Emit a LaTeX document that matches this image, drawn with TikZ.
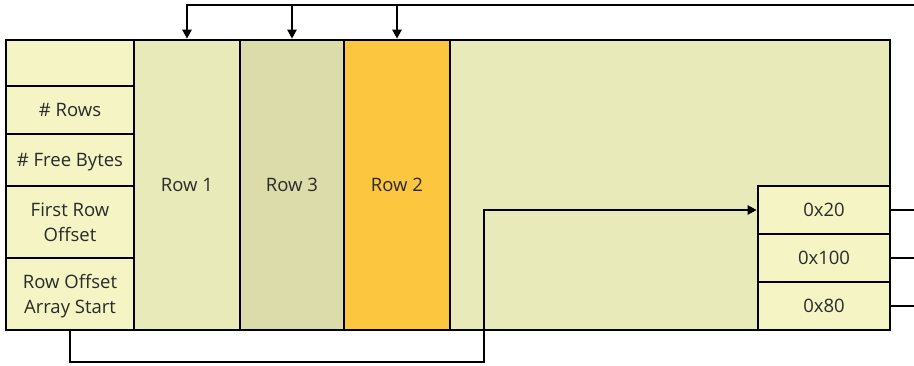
\documentclass[tikz,border=0pt]{standalone}
\usepackage{fontspec}
\setmainfont{Open Sans}
\usepackage{xcolor}
\usepackage{tikz}
\usetikzlibrary{positioning,arrows.meta,calc}
\definecolor{pageCream}{HTML}{F4F4C4}
\definecolor{pageOlive}{HTML}{E8EABA}
\definecolor{pageKhaki}{HTML}{DCDBAA}
\definecolor{pageAmber}{HTML}{FCC63F}
\definecolor{pageInk}{HTML}{2A2A2A}

\begin{document}
\begin{tikzpicture}[
  x=1pt,
  y=-1pt,
  cell/.style={draw=black, line width=2.6pt, inner sep=0pt, align=center, text depth=0pt,
    text=pageInk, font=\fontsize{18.5}{25}\selectfont, minimum width=128pt},
  header/.style={cell, fill=pageCream},
  rowcol/.style={cell, minimum height=290pt},
  offcell/.style={cell, fill=pageCream, minimum width=132pt, minimum height=48pt},
  arrow/.style={-{Triangle[length=9pt,width=9pt]}, line width=2.4pt, draw=black},
  stub/.style={line width=2.4pt, draw=black}
]
\useasboundingbox (0,0) rectangle (914,365);

\node[cell, fill=pageOlive, minimum width=884pt, minimum height=290pt] (page) at (448,185) {};

\node[header, minimum height=46pt] (top) at (70,63) {};
\node[header, minimum height=48pt] (rows) at (70,110) {\# Rows};
\node[header, minimum height=52pt] (free) at (70,160) {\# Free Bytes};
\node[header, minimum height=72pt] (first) at (70,222) {First Row\\Offset};
\node[header, minimum height=72pt] (arraystart) at (70,294) {Row Offset\\Array Start};

\node[rowcol, fill=pageOlive, minimum width=106pt] (row1) at (187,185) {Row 1};
\node[rowcol, fill=pageKhaki, minimum width=104pt] (row3) at (292,185) {Row 3};
\node[rowcol, fill=pageAmber, minimum width=106pt] (row2) at (397,185) {Row 2};

\node[offcell] (off20) at (824,210) {0x20};
\node[offcell] (off100) at (824,258) {0x100};
\node[offcell] (off80) at (824,306) {0x80};

\coordinate (topin) at (914,5);
\coordinate (bend) at (484,362);

\draw[arrow] (topin) -| (row1.north);
\draw[arrow] (row3.north |- topin) -- (row3.north);
\draw[arrow] (row2.north |- topin) -- (row2.north);

\draw[stub] (off20.east) -- ++(24,0);
\draw[stub] (off100.east) -- ++(24,0);
\draw[stub] (off80.east) -- ++(24,0);

\draw[arrow] (arraystart.south) -- (arraystart.south |- bend) -- (bend) |- (off20.west);
\end{tikzpicture}
\end{document}
